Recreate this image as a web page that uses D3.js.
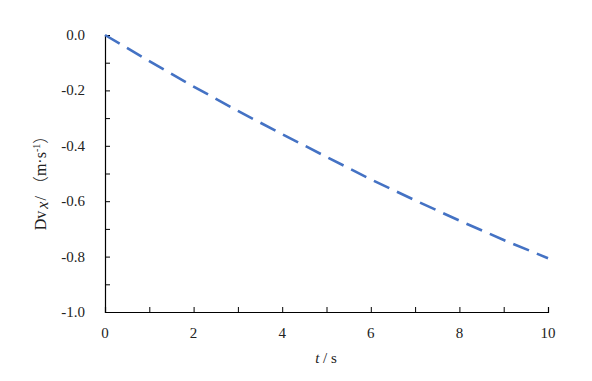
<!DOCTYPE html>
<html><head><meta charset="utf-8">
<script src="https://cdn.jsdelivr.net/npm/d3@7"></script>
<style>body{margin:0;background:#fff}svg{display:block}text{fill:#222}</style>
</head><body><svg id="c" width="592" height="381"></svg>
<script>
const times = [0,1,2,3,4,5,6,7,8,9,10];
const dvx = [0,-0.094,-0.186,-0.274,-0.358,-0.440,-0.521,-0.597,-0.670,-0.740,-0.806];
const xTicks = [0,2,4,6,8,10];
const yTicks = [0,-0.2,-0.4,-0.6,-0.8,-1.0];
const SERIF = "'Liberation Serif','Times New Roman',serif";

const svg = d3.select("#c");
const x = d3.scaleLinear().domain([0,10]).range([105,548]);
const y = d3.scaleLinear().domain([-1,0]).range([312,35]);

const gx = svg.append("g").attr("transform","translate(0,312)")
  .call(d3.axisBottom(x).tickValues(d3.range(0,11,1)).tickSize(-5).tickFormat(""));
const gy = svg.append("g").attr("transform","translate(105,0)")
  .call(d3.axisLeft(y).tickValues(d3.range(0,11,1).map(i=>-i/10)).tickSize(-5).tickFormat(""));
[gx,gy].forEach(g=>{g.selectAll("path").attr("stroke","#000").attr("stroke-width",1.2);g.selectAll("line").attr("stroke","#000").attr("stroke-width",1);});

svg.append("g").selectAll("text").data(xTicks).join("text")
  .attr("font-family",SERIF)
  .attr("x",d=>x(d)).attr("y",338).attr("text-anchor","middle").attr("font-size",15).text(d=>d);
svg.append("g").selectAll("text").data(yTicks).join("text")
  .attr("font-family",SERIF)
  .attr("x",85).attr("y",d=>y(d)+5).attr("text-anchor","end").attr("font-size",15).text(d=>d.toFixed(1));

const line = d3.line().x((d,i)=>x(times[i])).y(d=>y(d));
svg.append("path").datum(dvx).attr("d",line).attr("fill","none")
  .attr("stroke","#4472C4").attr("stroke-width",2.6).attr("stroke-dasharray","17,8.5");

const xl = svg.append("text").attr("font-family",SERIF).attr("x",326).attr("y",363).attr("text-anchor","middle").attr("font-size",15);
xl.append("tspan").attr("font-style","italic").text("t");
xl.append("tspan").text(" / s");

const yl = svg.append("text").attr("font-family",SERIF).attr("transform","translate(46,179) rotate(-90)").attr("text-anchor","middle").attr("font-size",16);
yl.append("tspan").text("Dv");
yl.append("tspan").attr("font-style","italic").attr("dy",2).attr("dx",2).text("x");
yl.append("tspan").attr("dy",-2).attr("dx",1).text("/ ");
yl.append("tspan").attr("font-family","'Noto Sans CJK SC'").attr("font-weight",300).attr("font-size",16).text("（");
yl.append("tspan").text("m·s");
yl.append("tspan").attr("dy",-6).attr("font-size",10).text("-1");
yl.append("tspan").attr("dy",6).attr("font-family","'Noto Sans CJK SC'").attr("font-weight",300).attr("font-size",16).text("）");
</script></body></html>
